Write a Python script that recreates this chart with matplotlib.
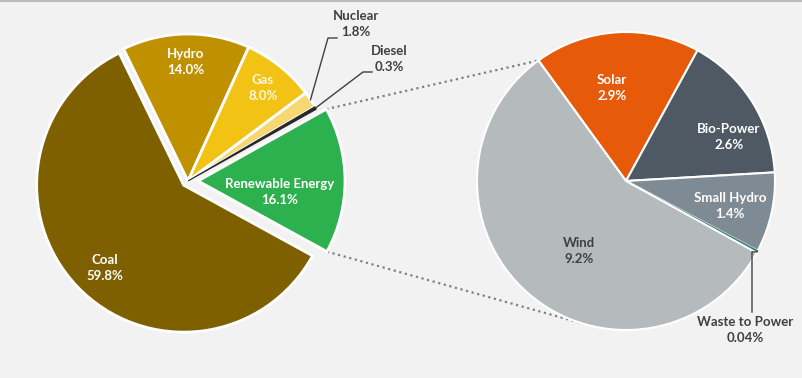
import numpy as np
import matplotlib
matplotlib.use('Agg')
import matplotlib.pyplot as plt
from matplotlib.lines import Line2D

# main pie
main_labels = ['Hydro', 'Gas', 'Nuclear', 'Diesel', 'Renewable Energy', 'Coal']
main_values = [14.0, 8.0, 1.8, 0.3, 16.1, 59.8]
main_colors = ['#BF9000', '#F2C314', '#F7D774', '#262626', '#2DB04E', '#7F6000']

# breakdown of renewable energy
sub_labels = ['Solar', 'Bio-Power', 'Small Hydro', 'Waste to Power', 'Wind']
sub_values = [2.9, 2.6, 1.4, 0.04, 9.2]
sub_colors = ['#E65A0A', '#4E5964', '#7F8B94', '#2F7F73', '#B5BABC']

W, H = 803, 378
plt.rcParams['font.family'] = ['Lato', 'DejaVu Sans']

fig = plt.figure(figsize=(W / 100, H / 100), dpi=100, facecolor='#F2F2F2')
ax = fig.add_axes([0, 0, 1, 1])
ax.set_facecolor('#F2F2F2')

def Y(y):
    # image row -> data y
    return H - y

c1, r1 = (188, Y(181)), 147
c2, r2 = (626, Y(181)), 149

wedges1, _ = ax.pie(main_values, colors=main_colors, startangle=116, counterclock=False,
                    center=c1, radius=r1, explode=[0, 0, 0, 0, 10, 6],
                    wedgeprops=dict(edgecolor='white', linewidth=2))
wedges2, _ = ax.pie(sub_values, colors=sub_colors, startangle=126, counterclock=False,
                    center=c2, radius=r2,
                    wedgeprops=dict(edgecolor='white', linewidth=1.5))
# the tiny slices read better without a white outline
wedges1[3].set_edgecolor('#262626'); wedges1[3].set_linewidth(0.8)
wedges2[3].set_edgecolor('#2F7F73'); wedges2[3].set_linewidth(0.8)

def edge_point(w, ang):
    a = np.deg2rad(ang)
    return w.center[0] + w.r * np.cos(a), w.center[1] + w.r * np.sin(a)

def mid_point(w):
    return edge_point(w, (w.theta1 + w.theta2) / 2)

# dotted connectors renewable -> breakdown
ren = wedges1[4]
solar = wedges2[0]
p_top = edge_point(ren, ren.theta2)
p_bot = edge_point(ren, ren.theta1)
q_top = edge_point(solar, solar.theta2)
q_bot = edge_point(solar, -107.5)
for p, q in [(p_top, q_top), (p_bot, q_bot)]:
    ax.plot([p[0], q[0]], [p[1], q[1]], color='#808080', lw=1.6,
            linestyle=(0, (1, 1.6)), zorder=0)

lab = dict(ha='center', va='center', fontsize=9.5, fontweight='bold', linespacing=1.35)
white, dark = 'white', '#404040'

text_pos = {
    'Hydro': (186, 62), 'Gas': (263, 88), 'Renewable Energy': (280, 192),
    'Coal': (105, 268), 'Nuclear': (356, 24), 'Diesel': (389, 59),
    'Solar': (612, 88), 'Bio-Power': (729, 137), 'Small Hydro': (730, 206),
    'Wind': (579, 251), 'Waste to Power': (745, 330),
}
text_col = {'Gas': '#FFF6DC', 'Nuclear': dark, 'Diesel': dark, 'Wind': dark,
            'Waste to Power': dark}

for names, vals in [(main_labels, main_values), (sub_labels, sub_values)]:
    for n, v in zip(names, vals):
        fmt = '{:.2f}%' if v < 0.1 else '{:.1f}%'
        x, y = text_pos[n]
        ax.text(x, Y(y), n + '\n' + fmt.format(v), color=text_col.get(n, white), **lab)

# leader lines for the thin slices
def leader(w, pts):
    s = mid_point(w)
    xs = [s[0]] + [p[0] for p in pts]
    ys = [s[1]] + [Y(p[1]) for p in pts]
    ax.plot(xs, ys, color='#404040', lw=1.0, zorder=3)

leader(wedges1[2], [(328, 38), (337, 38)])
leader(wedges1[3], [(363, 72), (372, 72)])
leader(wedges2[3], [(752, 252), (752, 312)])

ax.set_xlim(0, W)
ax.set_ylim(0, H)
ax.set_aspect('equal')
ax.axis('off')

fig.add_artist(Line2D([0, 1], [0.997, 0.997], color='#BDBDBD', lw=1.5, transform=fig.transFigure))

fig.savefig('out.png', dpi=100, facecolor=fig.get_facecolor())
